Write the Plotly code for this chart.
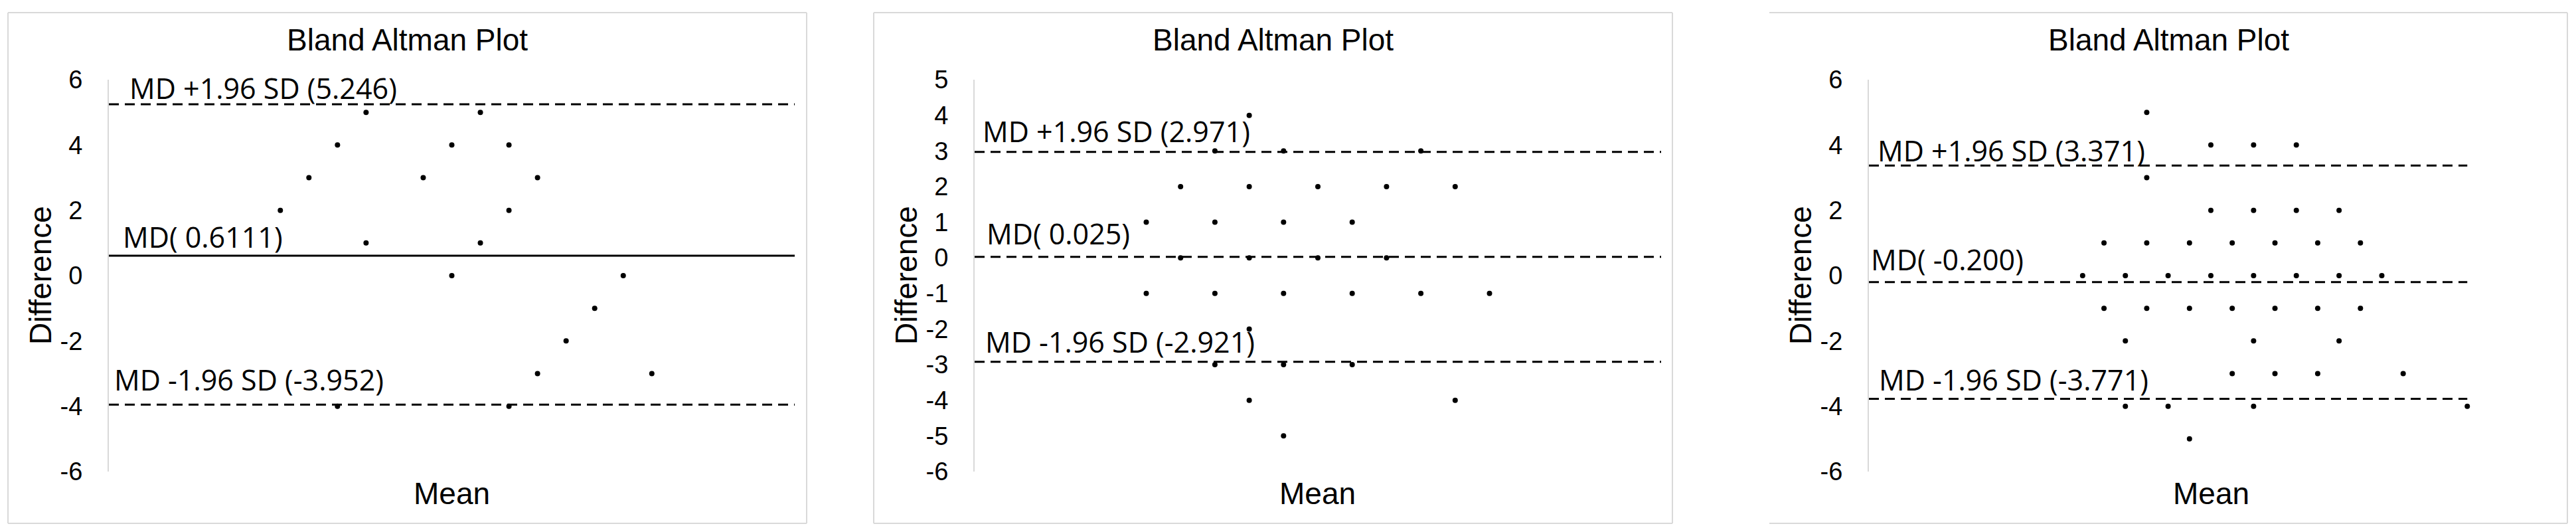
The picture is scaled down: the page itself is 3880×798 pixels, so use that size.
import plotly.graph_objects as go

# ---------------- data ----------------
mean1 = [6, 7, 8, 8, 9, 9, 11, 12, 12, 13, 13, 14, 14, 14, 15, 15, 16, 17, 18, 19]
diff1 = [2, 3, 4, -4, 5, 1, 3, 4, 0, 5, 1, 4, 2, -4, 3, -3, -2, -1, 0, -3]
md1, up1, lo1 = 0.6111, 5.246, -3.952
labels1 = ["MD +1.96 SD (5.246)", "MD( 0.6111)", "MD -1.96 SD (-3.952)"]
ticks1 = [6, 4, 2, 0, -2, -4, -6]

mean2 = [5, 5, 6, 6, 7, 7, 7, 7, 8, 8, 8, 8, 8, 9, 9, 9, 9, 9,
         10, 10, 11, 11, 11, 12, 12, 13, 13, 14, 14, 15]
diff2 = [1, -1, 2, 0, 3, 1, -1, -3, 4, 2, 0, -2, -4, 3, 1, -1, -3, -5,
         2, 0, 1, -1, -3, 2, 0, 3, -1, 2, -4, -1]
md2, up2, lo2 = 0.025, 2.971, -2.921
labels2 = ["MD +1.96 SD (2.971)", "MD( 0.025)", "MD -1.96 SD (-2.921)"]
ticks2 = [5, 4, 3, 2, 1, 0, -1, -2, -3, -4, -5, -6]

mean3 = [10, 11, 11, 12, 12, 12, 13, 13, 13, 13, 14, 14, 15, 15, 15,
         16, 16, 16, 17, 17, 17, 18, 18, 18, 18, 18, 19, 19, 19,
         20, 20, 20, 21, 21, 21, 22, 22, 22, 23, 23, 24, 25, 28]
diff3 = [0, 1, -1, 0, -2, -4, 5, 3, 1, -1, 0, -4, 1, -1, -5,
         4, 2, 0, 1, -1, -3, 4, 2, 0, -2, -4, 1, -1, -3,
         4, 2, 0, 1, -1, -3, 2, 0, -2, 1, -1, 0, -3, -4]
md3, up3, lo3 = -0.200, 3.371, -3.771
labels3 = ["MD +1.96 SD (3.371)", "MD( -0.200)", "MD -1.96 SD (-3.771)"]
ticks3 = [6, 4, 2, 0, -2, -4, -6]

title_text = "Bland Altman Plot"
x_title = "Mean"
y_title = "Difference"

# ---------------- layout helpers ----------------
W, H = 3880, 798
OFF = 8  # page body margin: shift everything up/left so it lands where intended


def fx(p):
    return (p - OFF) / W


def fy(p):
    return 1 - (p - OFF) / H


PLOT_TOP, PLOT_BOT = 120, 710

panels = [
    dict(mean=mean1, diff=diff1, md=md1, up=up1, lo=lo1, labels=labels1, ticks=ticks1,
         border=(12, 1215, True), dom=(164, 1197), xr=(0, 24), xline=24,
         yr=(-6, 6), md_dash="solid",
         lab_x=(193, 183, 170), lab_shift=(-7, -3, 6)),
    dict(mean=mean2, diff=diff2, md=md2, up=up2, lo=lo2, labels=labels2, ticks=ticks2,
         border=(1316, 2519, True), dom=(1468, 2502), xr=(0, 20), xline=20,
         yr=(-6, 5), md_dash="15px,9px",
         lab_x=(1478, 1484, 1482), lab_shift=(0, 4, -1)),
    dict(mean=mean3, diff=diff3, md=md3, up=up3, lo=lo3, labels=labels3, ticks=ticks3,
         border=(2665, 3867, False), dom=(2815, 3845), xr=(0, 32), xline=28,
         yr=(-6, 6), md_dash="15px,9px",
         lab_x=(2826, 2816, 2828), lab_shift=(-9, 3, -3)),
]

fig = go.Figure()
shapes = []
annotations = []
layout_axes = {}

for i, p in enumerate(panels, start=1):
    xa = "x" if i == 1 else f"x{i}"
    ya = "y" if i == 1 else f"y{i}"
    xkey = "xaxis" if i == 1 else f"xaxis{i}"
    ykey = "yaxis" if i == 1 else f"yaxis{i}"

    for val, dash in ((p["up"], "15px,9px"), (p["md"], p["md_dash"]), (p["lo"], "15px,9px")):
        fig.add_trace(go.Scatter(
            x=[p["xr"][0], p["xline"]], y=[val, val], mode="lines",
            line=dict(color="#000000", width=3, dash=dash),
            xaxis=xa, yaxis=ya, showlegend=False, hoverinfo="skip"))

    fig.add_trace(go.Scatter(
        x=p["mean"], y=p["diff"], mode="markers",
        marker=dict(color="#000000", size=8),
        xaxis=xa, yaxis=ya, showlegend=False))

    layout_axes[xkey] = dict(
        domain=[fx(p["dom"][0]), fx(p["dom"][1])], range=list(p["xr"]),
        visible=False, anchor=ya, fixedrange=True)
    layout_axes[ykey] = dict(
        domain=[fy(PLOT_BOT), fy(PLOT_TOP)], range=list(p["yr"]),
        tickvals=p["ticks"], ticktext=[str(t) for t in p["ticks"]],
        anchor=xa, automargin=False,
        showgrid=False, zeroline=False, showline=True,
        linecolor="#d9d9d9", linewidth=2, ticks="",
        ticklabelstandoff=30,
        tickfont=dict(family="Liberation Sans, Arial", size=38, color="#000000"))

    for txt, val, lx, sh in zip(p["labels"], (p["up"], p["md"], p["lo"]),
                                p["lab_x"], p["lab_shift"]):
        annotations.append(dict(
            text=txt, x=fx(lx), xref="paper", xanchor="left",
            y=val, yref=ya, yanchor="bottom", yshift=sh, showarrow=False,
            font=dict(family="Open Sans", size=43, color="#000000")))

    bx0, bx1, left_border = p["border"]
    cx = (bx0 + bx1) / 2
    annotations.append(dict(
        text=title_text, x=fx(cx), y=fy(60), xref="paper", yref="paper",
        xanchor="center", yanchor="middle", showarrow=False,
        font=dict(family="Liberation Sans, Arial", size=46, color="#000000")))
    annotations.append(dict(
        text=x_title, x=fx((p["dom"][0] + p["dom"][1]) / 2), y=fy(743),
        xref="paper", yref="paper", xanchor="center", yanchor="middle",
        showarrow=False,
        font=dict(family="Liberation Sans, Arial", size=46, color="#000000")))
    annotations.append(dict(
        text=y_title, x=fx(p["dom"][0] - 103), y=fy((PLOT_TOP + PLOT_BOT) / 2),
        xref="paper", yref="paper", xanchor="center", yanchor="middle",
        textangle=-90, showarrow=False,
        font=dict(family="Liberation Sans, Arial", size=46, color="#000000")))

    bstyle = dict(color="#d9d9d9", width=2)
    shapes.append(dict(type="line", xref="paper", yref="paper",
                       x0=fx(bx0), x1=fx(bx1), y0=fy(19), y1=fy(19), line=bstyle))
    shapes.append(dict(type="line", xref="paper", yref="paper",
                       x0=fx(bx0), x1=fx(bx1), y0=fy(788), y1=fy(788), line=bstyle))
    shapes.append(dict(type="line", xref="paper", yref="paper",
                       x0=fx(bx1), x1=fx(bx1), y0=fy(19), y1=fy(788), line=bstyle))
    if left_border:
        shapes.append(dict(type="line", xref="paper", yref="paper",
                           x0=fx(bx0), x1=fx(bx0), y0=fy(19), y1=fy(788), line=bstyle))

fig.update_layout(
    width=W, height=H, autosize=False,
    margin=dict(l=0, r=0, t=0, b=0, autoexpand=False),
    paper_bgcolor="#ffffff", plot_bgcolor="#ffffff",
    shapes=shapes, annotations=annotations,
    **layout_axes)

fig.write_html("out.html")
